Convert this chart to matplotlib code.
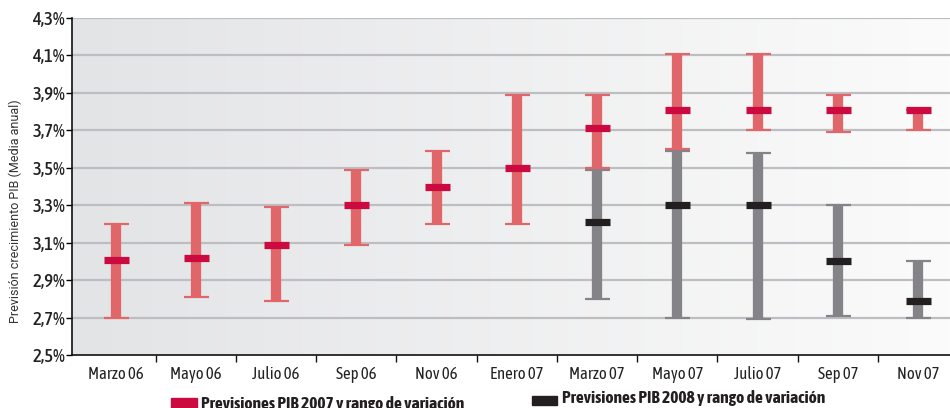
import numpy as np
import matplotlib
matplotlib.use("Agg")
import matplotlib.pyplot as plt
from matplotlib.patches import Rectangle
from matplotlib.ticker import FixedLocator, NullFormatter

plt.rcParams['font.family'] = ['Asap Condensed', 'DejaVu Sans']

categories = ["Marzo 06", "Mayo 06", "Julio 06", "Sep 06", "Nov 06", "Enero 07",
              "Marzo 07", "Mayo 07", "Julio 07", "Sep 07", "Nov 07"]

# Previsiones PIB 2007: media, mínimo y máximo (%)
pib07_mean = [3.01, 3.02, 3.09, 3.30, 3.40, 3.50, 3.71, 3.81, 3.81, 3.81, 3.81]
pib07_low = [2.70, 2.81, 2.79, 3.09, 3.20, 3.20, 3.50, 3.60, 3.70, 3.69, 3.70]
pib07_high = [3.20, 3.31, 3.29, 3.49, 3.59, 3.89, 3.89, 4.11, 4.11, 3.89, 3.81]

# Previsiones PIB 2008 (desde marzo 07)
pib08_idx = [6, 7, 8, 9, 10]
pib08_mean = [3.21, 3.30, 3.30, 3.00, 2.79]
pib08_low = [2.80, 2.70, 2.69, 2.71, 2.70]
pib08_high = [3.49, 3.59, 3.58, 3.30, 3.00]

yticks = [2.5, 2.7, 2.9, 3.1, 3.3, 3.5, 3.7, 3.9, 4.1, 4.3]
ytick_labels = ["2,5%", "2,7%", "2,9%", "3,1%", "3,3%", "3,5%", "3,7%", "3,9%", "4,1%", "4,3%"]

RANGE07 = "#e0666a"
MEAN07 = "#cc0a3f"
RANGE08 = "#838388"
MEAN08 = "#231f20"

fig = plt.figure(figsize=(9.5, 4.08), dpi=100)
ax = fig.add_axes([72 / 950, 1 - 355 / 408, 878 / 950, 337 / 408])

x = np.arange(len(categories))
ax.set_xlim(-0.542, 10.397)
ax.set_ylim(2.5, 4.3)

# horizontal grey gradient background
grad = np.linspace(0, 1, 256)[None, :]
left_c = np.array([227, 228, 230]) / 255
right_c = np.array([251, 251, 251]) / 255
img = left_c[None, None, :] * (1 - grad[..., None]) + right_c[None, None, :] * grad[..., None]
ax.imshow(img, extent=[0, 1, 0, 1], transform=ax.transAxes, aspect='auto', zorder=0)

for v in yticks[1:]:
    ax.axhline(v, color="#bebec2", lw=1.6, zorder=1)


def draw_series(xs, mean, low, high, rcol, mcol):
    xs = np.asarray(xs)
    mean = np.asarray(mean)
    low = np.asarray(low)
    high = np.asarray(high)
    ax.errorbar(xs, mean, yerr=[mean - low, high - mean], fmt='none',
                ecolor=rcol, elinewidth=7.4, capsize=9, capthick=1.6, zorder=3)
    ax.plot(xs, mean, ls='none', marker='_', ms=18, mew=5.2, color=mcol, zorder=4)


draw_series(np.array(pib08_idx), pib08_mean, pib08_low, pib08_high, RANGE08, MEAN08)
draw_series(x, pib07_mean, pib07_low, pib07_high, RANGE07, MEAN07)

for s in ["top", "right"]:
    ax.spines[s].set_visible(False)
ax.spines["left"].set_color("#111111")
ax.spines["bottom"].set_color("#111111")
ax.spines["left"].set_linewidth(1.2)
ax.spines["bottom"].set_linewidth(1.2)

ax.set_yticks(yticks)
ax.set_yticklabels(ytick_labels, fontsize=13.5, fontweight='medium', color="#222222")
ax.tick_params(axis='y', direction='out', length=4, width=1, pad=1)

ax.set_xticks(x)
ax.set_xticklabels(categories, fontsize=12, color="#222222")
ax.tick_params(axis='x', which='major', length=0, pad=8)
ax.xaxis.set_minor_locator(FixedLocator(list(np.arange(len(categories) - 1) + 0.5)))
ax.xaxis.set_minor_formatter(NullFormatter())
ax.tick_params(axis='x', which='minor', direction='out', length=5, width=1, color="#111111")

fig.text(15 / 950, 1 - 211 / 408, "Previsión crecimiento PIB (Media anual)", rotation=90,
         ha='center', va='center', fontsize=9, color="#333333", family=['Roboto', 'DejaVu Sans'])

# legend
fig.patches.append(Rectangle((171 / 950, 0), 26 / 950, 10 / 408, transform=fig.transFigure,
                             color=MEAN07, zorder=5))
fig.text(201 / 950, 1 - 403.5 / 408, "Previsiones PIB 2007 y rango de variación",
         ha='left', va='center', fontsize=12.6, fontweight='bold', color="#231f20")
fig.patches.append(Rectangle((532 / 950, 1 - 405 / 408), 25 / 950, 9 / 408,
                             transform=fig.transFigure, color=MEAN08, zorder=5))
fig.text(562 / 950, 1 - 398.5 / 408, "Previsiones PIB 2008 y rango de variación",
         ha='left', va='center', fontsize=12.6, fontweight='bold', color="#231f20")

fig.savefig("out.png", dpi=100)
